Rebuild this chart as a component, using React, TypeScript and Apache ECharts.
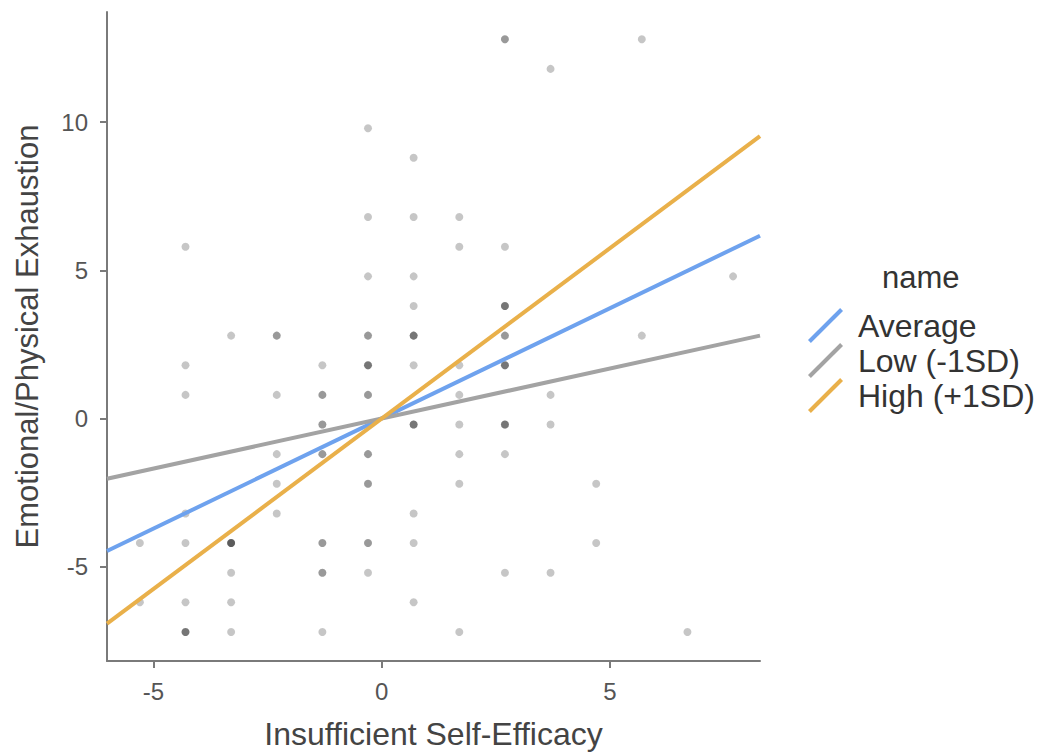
import React, { useEffect, useRef } from "react";
import * as echarts from "echarts";

// Regression lines (endpoints read at the plot's x limits)
const seriesNames = ["Average", "Low (-1SD)", "High (+1SD)"];
const lineX = [-6.02, 8.29];
const averageY = [-4.47, 6.17];
const lowY = [-2.03, 2.8];
const highY = [-6.92, 9.53];

// Observed points (count = number of overlapping observations)
const pointX = [
  2.7, 5.7,
  3.7,
  -0.3,
  0.7,
  -0.3, 0.7, 1.7,
  -4.3, 1.7, 2.7,
  -0.3, 0.7, 7.7,
  0.7, 2.7,
  -3.3, -2.3, -0.3, 0.7, 2.7, 5.7,
  -4.3, -1.3, -0.3, 0.7, 1.7, 2.7,
  -4.3, -2.3, -1.3, -0.3, 1.7, 3.7,
  -1.3, 0.7, 1.7, 2.7, 3.7,
  -2.3, -1.3, -0.3, 1.7, 2.7,
  -2.3, -0.3, 1.7, 4.7,
  -4.3, -2.3, 0.7,
  -5.3, -4.3, -3.3, -1.3, -0.3, 0.7, 4.7,
  -3.3, -1.3, -0.3, 2.7, 3.7,
  -5.3, -4.3, -3.3, 0.7,
  -4.3, -3.3, -1.3, 1.7, 6.7,
];
const pointY = [
  12.8, 12.8,
  11.8,
  9.8,
  8.8,
  6.8, 6.8, 6.8,
  5.8, 5.8, 5.8,
  4.8, 4.8, 4.8,
  3.8, 3.8,
  2.8, 2.8, 2.8, 2.8, 2.8, 2.8,
  1.8, 1.8, 1.8, 1.8, 1.8, 1.8,
  0.8, 0.8, 0.8, 0.8, 0.8, 0.8,
  -0.2, -0.2, -0.2, -0.2, -0.2,
  -1.2, -1.2, -1.2, -1.2, -1.2,
  -2.2, -2.2, -2.2, -2.2,
  -3.2, -3.2, -3.2,
  -4.2, -4.2, -4.2, -4.2, -4.2, -4.2, -4.2,
  -5.2, -5.2, -5.2, -5.2, -5.2,
  -6.2, -6.2, -6.2, -6.2,
  -7.2, -7.2, -7.2, -7.2, -7.2,
];
const pointCount = [
  2, 1,
  1,
  1,
  1,
  1, 1, 1,
  1, 1, 1,
  1, 1, 1,
  1, 3,
  1, 2, 2, 3, 2, 1,
  1, 1, 3, 1, 1, 3,
  1, 1, 2, 2, 1, 1,
  2, 3, 1, 3, 1,
  1, 2, 2, 1, 1,
  1, 2, 1, 1,
  1, 1, 1,
  1, 1, 4, 2, 2, 1, 1,
  1, 2, 1, 1, 1,
  1, 1, 1, 1,
  3, 1, 1, 1, 1,
];

const xTicks = [-5, 0, 5];
const yTicks = [-5, 0, 5, 10];

const colors = ["#6ea2ee", "#a3a3a3", "#e9b04a"];
const FONT = "'Liberation Sans', Arial, Helvetica, sans-serif";

export default function App() {
  const ref = useRef<HTMLDivElement>(null);

  useEffect(() => {
    if (!ref.current) return;
    const chart = echarts.init(ref.current, undefined, { renderer: "svg" });

    const scatterData: number[][] = [];
    pointX.forEach((x, i) => {
      for (let k = 0; k < pointCount[i]; k++) scatterData.push([x, pointY[i]]);
    });

    const lineSeries = [averageY, lowY, highY].map((ys, i) => ({
      name: seriesNames[i],
      type: "line" as const,
      data: lineX.map((x, j) => [x, ys[j]]),
      symbol: "none",
      color: colors[i],
      itemStyle: { color: colors[i] },
      lineStyle: { color: colors[i], width: 4 },
      z: 3,
      silent: true,
    }));

    const axisLine = { show: true, onZero: false, lineStyle: { color: "#7a7a7a", width: 2 } };

    chart.setOption({
      animation: false,
      grid: { left: 107, right: 283, top: 12, bottom: 95, containLabel: false },
      xAxis: {
        type: "value",
        min: -6.02,
        max: 8.29,
        splitLine: { show: false },
        axisLine,
        axisTick: {
          show: true,
          length: 7,
          customValues: xTicks,
          lineStyle: { color: "#7a7a7a", width: 2 },
        },
        axisLabel: {
          customValues: xTicks,
          fontSize: 24,
          fontFamily: FONT,
          color: "#555",
          margin: 18,
        },
        name: "Insufficient Self-Efficacy",
        nameLocation: "middle",
        nameGap: 57,
        nameTextStyle: { fontSize: 32, fontFamily: FONT, color: "#444" },
      },
      yAxis: {
        type: "value",
        min: -8.18,
        max: 13.72,
        splitLine: { show: false },
        axisLine,
        axisTick: {
          show: true,
          length: 7,
          customValues: yTicks,
          lineStyle: { color: "#7a7a7a", width: 2 },
        },
        axisLabel: {
          customValues: yTicks,
          fontSize: 24,
          fontFamily: FONT,
          color: "#555",
          margin: 19,
        },
        name: "Emotional/Physical Exhaustion",
        nameLocation: "middle",
        nameGap: 64,
        nameTextStyle: { fontSize: 31, fontFamily: FONT, color: "#444" },
      },
      legend: {
        data: seriesNames,
        orient: "vertical",
        left: 803,
        top: 303,
        itemWidth: 39,
        itemHeight: 35,
        itemGap: 0,
        selectedMode: false,
        icon: "path://M0,31.2L31.2,0L34,2.8L2.8,34Z",
        textStyle: {
          fontSize: 32,
          fontFamily: FONT,
          color: "#333",
          padding: [0, 0, 0, 8],
        },
      },
      graphic: [
        {
          type: "text",
          left: 882,
          top: 262,
          style: {
            text: "name",
            fontSize: 31,
            fontFamily: FONT,
            fill: "#333",
          },
        },
      ],
      series: [
        {
          type: "scatter",
          data: scatterData,
          symbolSize: 8,
          itemStyle: { color: "rgba(0,0,0,0.28)" },
          z: 2,
          silent: true,
        },
        ...lineSeries,
      ],
    });

    return () => chart.dispose();
  }, []);

  return (
    <div
      ref={ref}
      style={{ position: "fixed", left: 0, top: 0, width: 1043, height: 756, background: "#fff" }}
    />
  );
}
